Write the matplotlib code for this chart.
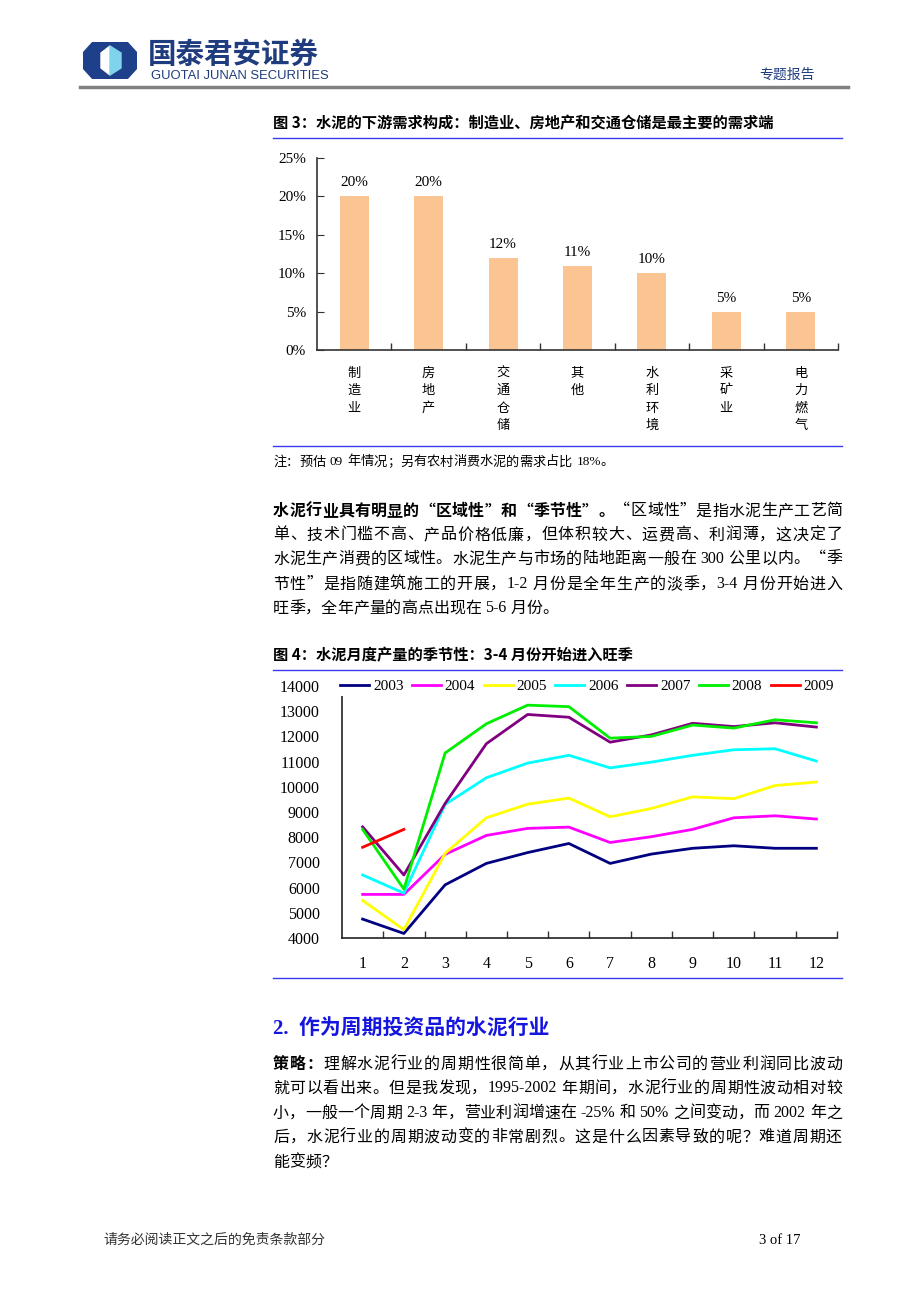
import re

import matplotlib
matplotlib.use("Agg")
import matplotlib.pyplot as plt
from matplotlib.lines import Line2D
from matplotlib.patches import Polygon

W, H = 920, 1302
CJK = "Noto Sans CJK SC"
SERIF = "Liberation Serif"
NAVY = "#1F3C7E"
RULE = "#3A3AF0"
PUNCT = "，。；：、？！“”"

# --- 图 3 数据 ---
demand_cats = ["制造业", "房地产", "交通仓储", "其他", "水利环境", "采矿业", "电力燃气"]
demand_share = [0.20, 0.20, 0.12, 0.11, 0.10, 0.05, 0.05]
share_ticks = [0, 0.05, 0.10, 0.15, 0.20, 0.25]

# --- 图 4 数据 (月度产量, 万吨) ---
months = list(range(1, 13))
years = ["2003", "2004", "2005", "2006", "2007", "2008", "2009"]
prod_2003 = [4750, 4180, 6110, 6960, 7390, 7750, 6960, 7330, 7560, 7660, 7560, 7560]
prod_2004 = [5730, 5730, 7320, 8070, 8350, 8400, 7790, 8020, 8310, 8770, 8850, 8720]
prod_2005 = [5490, 4330, 7360, 8770, 9310, 9550, 8810, 9140, 9600, 9530, 10050, 10190]
prod_2006 = [6500, 5780, 9300, 10360, 10940, 11250, 10750, 10980, 11250, 11470, 11510, 11020]
prod_2007 = [8410, 6500, 9340, 11710, 12870, 12760, 11770, 12060, 12520, 12390, 12540, 12370]
prod_2008 = [8310, 5940, 11340, 12500, 13240, 13180, 11930, 12000, 12450, 12330, 12660, 12540]
prod_2009 = [7600, 8310]
series = [prod_2003, prod_2004, prod_2005, prod_2006, prod_2007, prod_2008, prod_2009]
colors = ["#000080", "#FF00FF", "#FFFF00", "#00FFFF", "#800080", "#00EE00", "#FF0000"]

# --- 正文 ---
para1 = [
    ([("水泥行业具有明显的“区域性”和“季节性”。", "bold"), ("“区域性”是指水泥生产工艺简", "normal")], True),
    ([("单、技术门槛不高、产品价格低廉，但体积较大、运费高、利润薄，这决定了", "normal")], True),
    ([("水泥生产消费的区域性。水泥生产与市场的陆地距离一般在 300 公里以内。“季", "normal")], True),
    ([("节性”是指随建筑施工的开展，1-2 月份是全年生产的淡季，3-4 月份开始进入", "normal")], True),
    ([("旺季，全年产量的高点出现在 5-6 月份。", "normal")], False),
]
para1_y = [511, 535, 559, 584, 608]
para2 = [
    ([("策略：", "bold"), ("理解水泥行业的周期性很简单，从其行业上市公司的营业利润同比波动", "normal")], True),
    ([("就可以看出来。但是我发现，1995-2002 年期间，水泥行业的周期性波动相对较", "normal")], True),
    ([("小，一般一个周期 2-3 年，营业利润增速在-25%和 50%之间变动，而 2002 年之", "normal")], True),
    ([("后，水泥行业的周期波动变的非常剧烈。这是什么因素导致的呢？难道周期还", "normal")], True),
    ([("能变频？", "normal")], False),
]
para2_y = [1064, 1088, 1113, 1137, 1162]

fig = plt.figure(figsize=(W / 100, H / 100), dpi=100)
fig.patch.set_facecolor("white")


def fx(x):
    return x / W


def fy(y):
    return 1 - y / H


def rect(x0, y0, x1, y1):
    return [fx(x0), fy(y1), fx(x1 - x0), (y1 - y0) / H]


def hline(y, x0, x1, color=RULE, lw=1.0):
    fig.add_artist(Line2D([fx(x0), fx(x1)], [fy(y), fy(y)], color=color, lw=lw))


def is_ascii(tok):
    return re.match(r"[0-9A-Za-z\-]", tok) is not None


def text_line(segs, y, x0=273, x1=842, justify=True, size=11.5):
    tokens = []
    for txt, weight in segs:
        for tok in re.findall(r"[0-9A-Za-z%\.\-]+|\S", txt):
            tokens.append((tok, weight))
    arts = []
    for tok, weight in tokens:
        fam = SERIF if is_ascii(tok) else CJK
        arts.append(fig.text(0, fy(y), tok, fontsize=size, fontweight=weight,
                             family=fam, va="center", ha="left"))
    r = fig.canvas.get_renderer()
    widths = [a.get_window_extent(r).width for a in arts]
    base = []
    for i in range(len(tokens) - 1):
        a, b = tokens[i][0], tokens[i + 1][0]
        gap = 0.0
        if (is_ascii(a) and b not in PUNCT) or (is_ascii(b) and a not in PUNCT):
            gap = 4.0
        base.append(gap)
    extra = 0.0
    if justify and len(tokens) > 1:
        extra = (x1 - x0 - sum(widths) - sum(base)) / (len(tokens) - 1)
    x = x0
    for i, (a, w) in enumerate(zip(arts, widths)):
        a.set_x(fx(x))
        if i < len(base):
            x += w + base[i] + extra


# --- 页眉 ---
logo_ax = fig.add_axes(rect(83, 42, 137, 79))
logo_ax.set_xlim(0, 54)
logo_ax.set_ylim(37, 0)
logo_ax.axis("off")
logo_ax.add_patch(Polygon([(10, 0), (44, 0), (54, 11), (54, 26), (44, 37), (10, 37), (0, 26), (0, 11)],
                          closed=True, color="#1E3F8A"))
logo_ax.add_patch(Polygon([(27, 4), (18, 11), (18, 26), (27, 33)], closed=True, color="white"))
logo_ax.add_patch(Polygon([(27, 4), (38, 11), (38, 26), (27, 33)], closed=True, color="#7FD3EA"))
fig.text(fx(148), fy(55), "国泰君安证券", fontsize=20.5, fontweight="bold", family=CJK,
         color=NAVY, va="center", ha="left")
fig.text(fx(151), fy(76), "GUOTAI JUNAN SECURITIES", fontsize=9.4, family="Liberation Sans",
         color=NAVY, va="center", ha="left")
fig.text(fx(815), fy(75), "专题报告", fontsize=10, family=CJK, color=NAVY, va="center", ha="right")
hline(87, 80, 848, color="#808080", lw=2.5)

# --- 图 3 ---
fig.text(fx(273), fy(123), "图 3：水泥的下游需求构成：制造业、房地产和交通仓储是最主要的需求端",
         fontsize=11, fontweight="bold", family=CJK, va="center", ha="left")
hline(138, 273, 842)

ax1 = fig.add_axes(rect(317, 158, 838, 350))
xs = list(range(len(demand_cats)))
bars = ax1.bar(xs, demand_share, width=0.39, color="#FBC493", edgecolor="none")
ax1.bar_label(bars, labels=[f"{v * 100:.0f}%" for v in demand_share], padding=5,
              fontsize=11, family=SERIF)
ax1.set_xlim(-0.5, len(demand_cats) - 0.5)
ax1.set_ylim(0, 0.25)
ax1.set_yticks(share_ticks)
ax1.set_yticklabels([f"{v * 100:.0f}%" for v in share_ticks], family=SERIF, fontsize=11)
ax1.set_xticks(xs)
ax1.set_xticklabels(["\n".join(c) for c in demand_cats], family=CJK, fontsize=9.5,
                    linespacing=1.45, va="top")
ax1.set_xticks([i + 0.5 for i in xs], minor=True)
ax1.tick_params(axis="x", which="major", length=0, pad=12)
ax1.tick_params(axis="x", which="minor", direction="in", length=5, width=1, color="#333333")
ax1.tick_params(axis="y", direction="in", length=5, pad=8, color="#333333")
for s in ["top", "right"]:
    ax1.spines[s].set_visible(False)
for s in ["left", "bottom"]:
    ax1.spines[s].set_color("#333333")
    ax1.spines[s].set_linewidth(1.2)

hline(446, 273, 842)
text_line([("注：预估 09 年情况；另有农村消费水泥的需求占比 18%。", "normal")], 462,
          justify=False, size=9.5)

for segs, y in zip(para1, para1_y):
    text_line(segs[0], y, justify=segs[1])

# --- 图 4 ---
fig.text(fx(273), fy(655), "图 4：水泥月度产量的季节性：3-4 月份开始进入旺季",
         fontsize=11, fontweight="bold", family=CJK, va="center", ha="left")
hline(670, 273, 842)

ax2 = fig.add_axes(rect(342, 686, 837, 938))
for yr, vals, c in zip(years, series, colors):
    ax2.plot(months[:len(vals)], vals, color=c, lw=2.0, label=yr)
ax2.set_xlim(0.5, 12.5)
ax2.set_ylim(4000, 14000)
ax2.set_yticks(range(4000, 14001, 1000))
ax2.set_yticklabels([str(v) for v in range(4000, 14001, 1000)], family=SERIF, fontsize=11.5)
ax2.set_xticks(months)
ax2.set_xticklabels([str(m) for m in months], family=SERIF, fontsize=11.5)
ax2.set_xticks([m + 0.5 for m in months], minor=True)
ax2.tick_params(axis="x", which="major", length=0, pad=13)
ax2.tick_params(axis="x", which="minor", direction="in", length=5, width=1, color="#333333")
ax2.tick_params(axis="y", length=0, pad=16)
for s in ["top", "right"]:
    ax2.spines[s].set_visible(False)
for s in ["left", "bottom"]:
    ax2.spines[s].set_color("#222222")
    ax2.spines[s].set_linewidth(1.2)
leg = ax2.legend(loc="center left", bbox_to_anchor=(-0.01, 1.0), ncol=7, frameon=True,
                 fancybox=False, edgecolor="white", facecolor="white", framealpha=1,
                 prop={"family": SERIF, "size": 11}, handlelength=1.9, handletextpad=0.25,
                 columnspacing=0.55, borderpad=0.2, borderaxespad=0)
leg.get_frame().set_linewidth(0)

hline(978, 273, 842)

# --- 第 2 节 ---
fig.text(fx(273), fy(1030), "2.  作为周期投资品的水泥行业", fontsize=15, fontweight="bold",
         family=[SERIF, CJK], color="#1515E0", va="center", ha="left")
for segs, y in zip(para2, para2_y):
    text_line(segs[0], y, justify=segs[1])

# --- 页脚 ---
fig.text(fx(103), fy(1240), "请务必阅读正文之后的免责条款部分", fontsize=10, family=CJK,
         color="#333333", va="center", ha="left")
fig.text(fx(800), fy(1240), "3 of 17", fontsize=10.5, family=SERIF, va="center", ha="right")

fig.savefig("out.png", dpi=100)
